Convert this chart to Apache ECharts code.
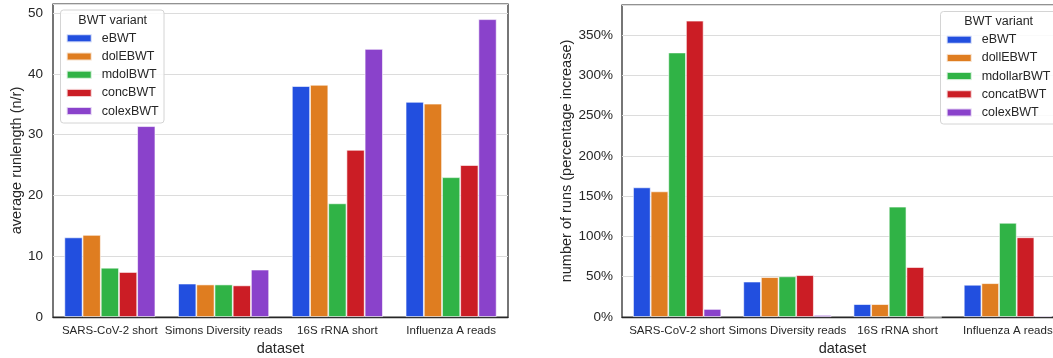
<!DOCTYPE html>
<html>
<head>
<meta charset="utf-8">
<script src="https://cdn.jsdelivr.net/npm/echarts@6/dist/echarts.min.js"></script>
<style>
html,body{margin:0;padding:0;background:#fff;}
#chart{width:1053px;height:358px;}
</style>
</head>
<body>
<div id="chart"></div>
<script>
// ---- data ----
const categories = ['SARS-CoV-2 short', 'Simons Diversity reads', '16S rRNA short', 'Influenza A reads'];

// left panel: average runlength (n/r)
const leftNames = ['eBWT', 'dolEBWT', 'mdolBWT', 'concBWT', 'colexBWT'];
const leftEBWT   = [13.1, 5.5, 38.0, 35.4];
const leftDolE   = [13.5, 5.35, 38.2, 35.1];
const leftMdol   = [8.1, 5.35, 18.7, 23.0];
const leftConc   = [7.4, 5.2, 27.5, 25.0];
const leftColex  = [31.4, 7.8, 44.1, 49.0];

// right panel: number of runs (percentage increase)
const rightNames = ['eBWT', 'dollEBWT', 'mdollarBWT', 'concatBWT', 'colexBWT'];
const rightEBWT  = [161, 44, 16, 40];
const rightDollE = [156, 49.5, 16, 42];
const rightMdol  = [328.5, 50.5, 137, 117];
const rightConc  = [368, 52, 62, 99];
const rightColex = [10, 2.5, 0, 1.5];

const leftTicks = { min: 0, max: 51.5, interval: 10 };
const rightTicks = { min: 0, max: 387.5, interval: 50 };

const colors = ['#224fdf', '#df7d20', '#30b346', '#cb1d25', '#8a42cb'];

// ---- chart ----
const FONT = '"Liberation Sans", Arial, sans-serif';
const TXT = '#262626';
const chart = echarts.init(document.getElementById('chart'), null, { renderer: 'canvas' });

const leftData = [leftEBWT, leftDolE, leftMdol, leftConc, leftColex];
const rightData = [rightEBWT, rightDollE, rightMdol, rightConc, rightColex];

function mkSeries(names, data, idx) {
  return names.map((n, i) => ({
    name: n,
    type: 'bar',
    xAxisIndex: idx,
    yAxisIndex: idx,
    data: data[i],
    barCategoryGap: '20%',
    barGap: '0%',
    itemStyle: { color: colors[i], borderColor: 'rgba(255,255,255,0.75)', borderWidth: 0.8 },
    emphasis: { disabled: true },
    animation: false
  }));
}

function xAx(idx) {
  return {
    type: 'category', gridIndex: idx, data: categories,
    name: 'dataset', nameLocation: 'middle', nameGap: 24,
    nameTextStyle: { fontFamily: FONT, fontSize: 14.5, color: TXT },
    axisLine: { show: true, lineStyle: { color: '#262626', width: 1.25 } },
    axisTick: { show: false },
    axisLabel: { fontFamily: FONT, fontSize: 11.5, color: TXT, margin: 8, interval: 0 },
    splitLine: { show: false }
  };
}

function yAx(idx, t, name, gap, fmt, margin) {
  return {
    type: 'value', gridIndex: idx, min: t.min, max: t.max, interval: t.interval,
    name: name, nameLocation: 'middle', nameGap: gap,
    nameTextStyle: { fontFamily: FONT, fontSize: 14.5, color: TXT },
    axisLine: { show: false }, axisTick: { show: false },
    axisLabel: { fontFamily: FONT, fontSize: 13.5, color: TXT, margin: margin, formatter: fmt, showMaxLabel: false },
    splitLine: { show: true, lineStyle: { color: '#dcdcdc', width: 1 } }
  };
}

function legendFor(names, left, top) {
  return {
    data: names, orient: 'vertical', left: left, top: top, z: 10,
    icon: 'rect', itemWidth: 25, itemHeight: 8, itemGap: 2.2,
    padding: 0, selectedMode: false,
    textStyle: { fontFamily: FONT, fontSize: 12.5, color: TXT, lineHeight: 16, padding: [0, 0, 0, 5] }
  };
}

const option = {
  backgroundColor: '#fff',
  animation: false,
  color: colors,
  grid: [
    { left: 53, top: 4, width: 455, height: 313, outerBoundsMode: 'none', containLabel: false,
      show: true, borderColor: '#262626', borderWidth: 1.25, backgroundColor: 'transparent' },
    { left: 622, top: 5, width: 441, height: 312, outerBoundsMode: 'none', containLabel: false,
      show: true, borderColor: '#262626', borderWidth: 1.25, backgroundColor: 'transparent' }
  ],
  xAxis: [xAx(0), xAx(1)],
  yAxis: [
    yAx(0, leftTicks, 'average runlength (n/r)', 25, '{value}', 10),
    yAx(1, rightTicks, 'number of runs (percentage increase)', 48, '{value}%', 9)
  ],
  legend: [legendFor(leftNames, 65.7, 30.3), legendFor(rightNames, 945.7, 31.7)],
  graphic: [
    { type: 'rect', z: 5, shape: { x: 60.5, y: 10, width: 103.5, height: 113, r: 3 },
      style: { fill: 'rgba(255,255,255,0.85)', stroke: '#d4d4d4', lineWidth: 1 } },
    { type: 'text', z: 11, x: 112.7, y: 20.7,
      style: { text: 'BWT variant', font: '12.5px ' + FONT, fill: TXT, align: 'center', verticalAlign: 'middle' } },
    { type: 'rect', z: 5, shape: { x: 940.5, y: 11.5, width: 130, height: 112.5, r: 3 },
      style: { fill: 'rgba(255,255,255,0.85)', stroke: '#d4d4d4', lineWidth: 1 } },
    { type: 'text', z: 11, x: 998.7, y: 21.7,
      style: { text: 'BWT variant', font: '12.5px ' + FONT, fill: TXT, align: 'center', verticalAlign: 'middle' } }
  ],
  series: [].concat(mkSeries(leftNames, leftData, 0), mkSeries(rightNames, rightData, 1))
};
chart.setOption(option);
</script>
</body>
</html>
